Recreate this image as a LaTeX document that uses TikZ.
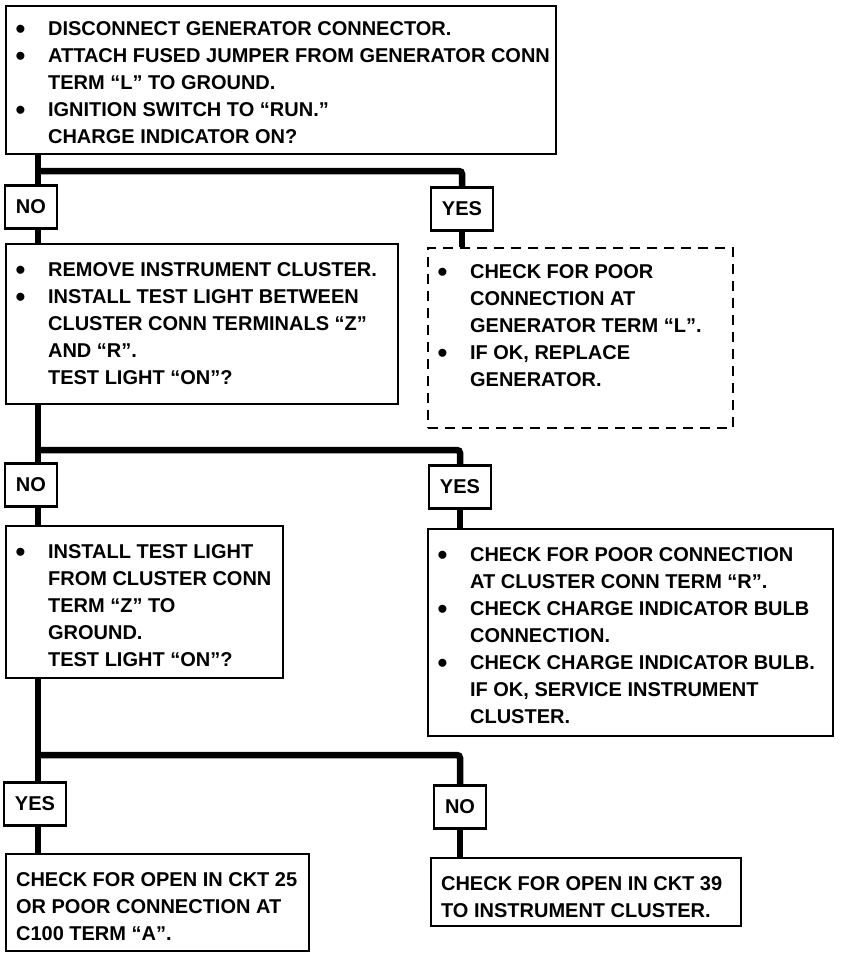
\documentclass[tikz,border=0pt]{standalone}
\usepackage{fontspec}
\setmainfont{Liberation Sans}
\newcommand{\bul}{\makebox[42pt][l]{\hspace{9.5pt}\smash{\raisebox{-0.15em}{\scalebox{1.4}{\textbullet}}}}}
\newcommand{\ind}{\hspace*{42pt}}
\newcommand{\pad}{\hspace*{10pt}}
\newcommand{\boxtext}[4][13pt]{\parbox[c][#3][t]{#2}{\raggedright\vspace*{#1}\strut#4}}
\begin{document}
\begin{tikzpicture}[x=1pt,y=-1pt,
		every node/.style={font=\fontsize{20}{27}\selectfont\bfseries},
		box/.style={draw,line width=2.2pt,inner sep=0pt,anchor=north west},
		lbl/.style={draw,line width=2.2pt,inner xsep=11pt,inner ysep=0pt,minimum height=43pt},
		flow/.style={line width=6.5pt,rounded corners=3pt}]
		\useasboundingbox (0,0) rectangle (848,954);

		% first test
		\node[box] (gen) at (5,5) {\boxtext[10pt]{550pt}{148pt}{%
			\bul DISCONNECT GENERATOR CONNECTOR.\\
			\bul ATTACH FUSED JUMPER FROM GENERATOR CONN\\
			\ind TERM “L” TO GROUND.\\
			\bul IGNITION SWITCH TO “RUN.”\\
			\ind CHARGE INDICATOR ON?}};
		\node[lbl] (no1) at (31,207) {NO};
		\node[lbl] (yes1) at (462,209) {YES};

		% second test
		\node[box] (clu) at (5,243) {\boxtext{392pt}{160pt}{%
			\bul REMOVE INSTRUMENT CLUSTER.\\
			\bul INSTALL TEST LIGHT BETWEEN\\
			\ind CLUSTER CONN TERMINALS “Z”\\
			\ind AND “R”.\\
			\ind TEST LIGHT “ON”?}};
		\node[box,dash pattern=on 10pt off 7pt] (poor) at (427,247) {\boxtext[11pt]{305pt}{180pt}{%
			\bul CHECK FOR POOR\\
			\ind CONNECTION AT\\
			\ind GENERATOR TERM “L”.\\
			\bul IF OK, REPLACE\\
			\ind GENERATOR.}};
		\node[lbl] (no2) at (31,485) {NO};
		\node[lbl] (yes2) at (460,487) {YES};

		% third test
		\node[box] (gnd) at (5,525) {\boxtext{277pt}{152pt}{%
			\bul INSTALL TEST LIGHT\\
			\ind FROM CLUSTER CONN\\
			\ind TERM “Z” TO\\
			\ind GROUND.\\
			\ind TEST LIGHT “ON”?}};
		\node[box] (bulb) at (427,528) {\boxtext{405pt}{207pt}{%
			\bul CHECK FOR POOR CONNECTION\\
			\ind AT CLUSTER CONN TERM “R”.\\
			\bul CHECK CHARGE INDICATOR BULB\\
			\ind CONNECTION.\\
			\bul CHECK CHARGE INDICATOR BULB.\\
			\ind IF OK, SERVICE INSTRUMENT\\
			\ind CLUSTER.}};
		\node[lbl] (yes3) at (35,804) {YES};
		\node[lbl] (no3) at (460,807) {NO};

		% results
		\node[box] (ckt25) at (5,853) {\boxtext{303pt}{97pt}{%
			\pad CHECK FOR OPEN IN CKT 25\\
			\pad OR POOR CONNECTION AT\\
			\pad C100 TERM “A”.}};
		\node[box] (ckt39) at (430,857) {\boxtext{310pt}{68pt}{%
			\pad CHECK FOR OPEN IN CKT 39\\
			\pad TO INSTRUMENT CLUSTER.}};

		% connectors
		\coordinate (s1) at (38,171);
		\coordinate (s2) at (38,450);
		\coordinate (s3) at (38,755);
		\draw[flow] (gen.south -| s1) -- (no1.north -| s1);
		\draw[flow] (s1) -| (yes1.north);
		\draw[flow] (no1.south -| s1) -- (clu.north -| s1);
		\draw[flow] (yes1.south) -- (yes1.south |- poor.north);

		\draw[flow] (clu.south -| s2) -- (no2.north -| s2);
		\draw[flow] (s2) -| (yes2.north);
		\draw[flow] (no2.south -| s2) -- (gnd.north -| s2);
		\draw[flow] (yes2.south) -- (yes2.south |- bulb.north);

		\draw[flow] (gnd.south -| s3) -- (yes3.north -| s3);
		\draw[flow] (s3) -| (no3.north);
		\draw[flow] (yes3.south -| s3) -- (ckt25.north -| s3);
		\draw[flow] (no3.south) -- (no3.south |- ckt39.north);
\end{tikzpicture}
\end{document}
